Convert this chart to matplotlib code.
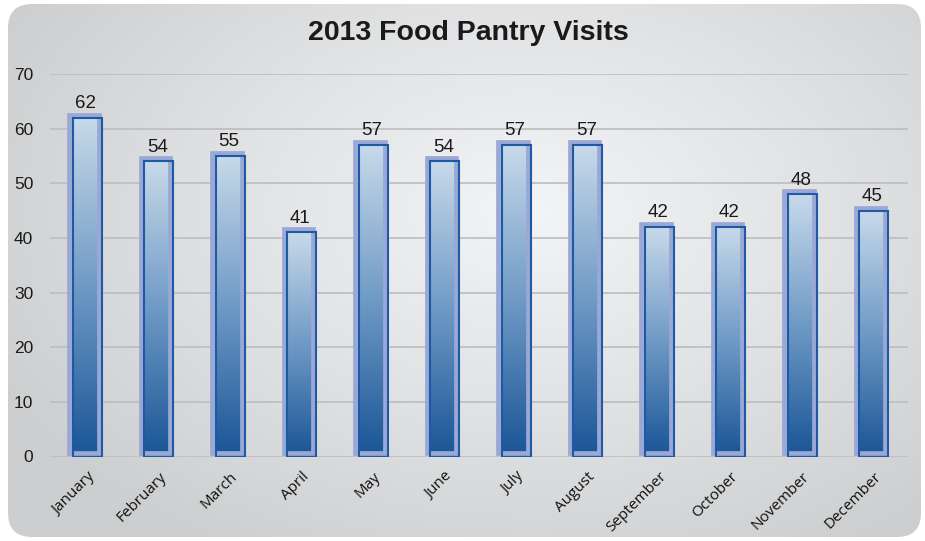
import numpy as np
import matplotlib
matplotlib.use("Agg")
from matplotlib import pyplot as plt
from matplotlib.patches import FancyBboxPatch
from matplotlib.colors import LinearSegmentedColormap
import matplotlib.patheffects as pe

months = ["January", "February", "March", "April", "May", "June",
          "July", "August", "September", "October", "November", "December"]
visits = [62, 54, 55, 41, 57, 54, 57, 57, 42, 42, 48, 45]

W, H = 925, 541
fig = plt.figure(figsize=(W / 100, H / 100), dpi=100, facecolor="white")

# background panel: rounded box with a soft radial gradient
bg = fig.add_axes([0, 0, 1, 1])
bg.set_xlim(0, W)
bg.set_ylim(0, H)
bg.axis("off")
yy, xx = np.mgrid[0:H, 0:W]
r = np.sqrt(((xx - 530) / 600.0) ** 2 + ((yy - 330) / 400.0) ** 2)
r = np.clip(r, 0, 1)
bg_cmap = LinearSegmentedColormap.from_list("bg", ["#f3f4f6", "#e1e2e4", "#cdcecf"])
img = bg.imshow(r, cmap=bg_cmap, extent=[0, W, 0, H], origin="lower", aspect="auto")
box = FancyBboxPatch((8, 4), 913, 533, boxstyle="round,pad=0,rounding_size=24",
                     facecolor="none", edgecolor="none", transform=bg.transData)
bg.add_patch(box)
img.set_clip_path(box)

ax = fig.add_axes([50 / W, (H - 456.5) / H, 858 / W, 382.5 / H])
ax.set_facecolor("none")
for s in ax.spines.values():
    s.set_visible(False)

x = np.arange(len(months))
bars = ax.bar(x, visits, width=0.41, facecolor="none", edgecolor="#1d5aa6",
              linewidth=1.5, zorder=4)

bar_cmap = LinearSegmentedColormap.from_list("bar", ["#1a5596", "#6f9ac6", "#c8daea"])
grad = np.linspace(0, 1, 256).reshape(-1, 1)
for b in bars:
    bx, bw, bh = b.get_x(), b.get_width(), b.get_height()
    im = ax.imshow(grad, cmap=bar_cmap, origin="lower", aspect="auto",
                   extent=[bx, bx + bw, 0, bh], zorder=3)
    im.set_clip_path(b)
    b.set_path_effects([pe.Stroke(linewidth=3.4, foreground="#9aa8d6", offset=(-2.4, 2.2)),
                        pe.Normal()])

for xi, v in zip(x, visits):
    ax.annotate(str(v), (xi, v), xytext=(-1, 4), textcoords="offset points",
                ha="center", va="bottom", fontsize=13.5,
                family="Liberation Sans", color="#1a1a1a", zorder=5)

ax.set_xlim(-0.52, 11.48)
ax.set_ylim(0, 70)
ax.set_yticks(range(0, 71, 10))
ax.yaxis.grid(True, color="#bdbdbf", linewidth=1.2, zorder=0)
ax.set_axisbelow(True)
ax.tick_params(axis="y", length=0, pad=12, labelsize=12.5, labelcolor="#1a1a1a")
for t in ax.get_yticklabels():
    t.set_family("Liberation Sans")
ax.set_xticks(x)
ax.set_xticklabels(months, rotation=45, ha="right", rotation_mode="anchor",
                   fontsize=11, family="Open Sans", color="#111111")
ax.tick_params(axis="x", length=0, pad=9)

fig.text(0.506, 0.939, "2013 Food Pantry Visits", ha="center", va="center",
         fontsize=20.5, fontweight="bold", family="Liberation Sans", color="#1a1a1a")

fig.savefig("out.png", dpi=100, facecolor="white")
